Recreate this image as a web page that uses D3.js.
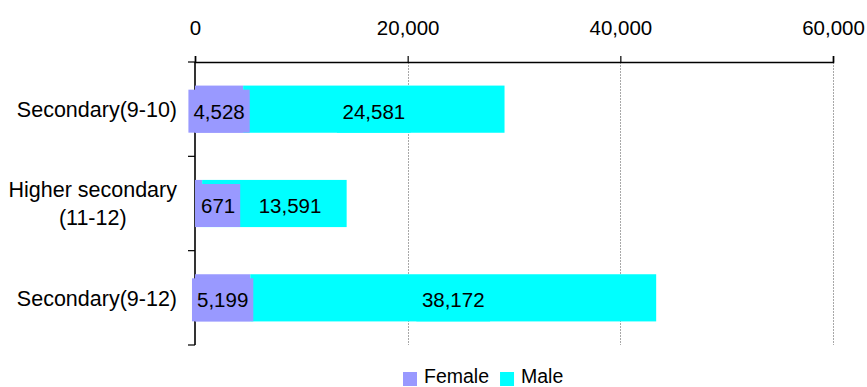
<!DOCTYPE html>
<html>
<head>
<meta charset="utf-8">
<script src="https://cdn.jsdelivr.net/npm/d3@7"></script>
<style>
  html, body { margin: 0; padding: 0; background: #fff; }
  text { font-family: Arial, "Liberation Sans", sans-serif; fill: #000; }
</style>
</head>
<body>
<svg id="chart" width="867" height="387"></svg>
<script>
const categories = ["Secondary(9-10)", "Higher secondary\n(11-12)", "Secondary(9-12)"];
const female = [4528, 671, 5199];
const male = [24581, 13591, 38172];
const seriesNames = ["Female", "Male"];
const seriesColors = ["#9999FF", "#00FFFF"];
const tickValues = [0, 20000, 40000, 60000];

const svg = d3.select("#chart");
const x = d3.scaleLinear().domain([0, 60000]).range([195, 833]);
const y = d3.scaleBand().domain(categories).range([62, 345]).paddingInner(0.5).paddingOuter(0.25);
const fmt = d3.format(",");

// gridlines
svg.append("g").selectAll("line").data(tickValues.filter(v => v > 0)).join("line")
  .attr("x1", d => Math.round(x(d)) + 0.5).attr("x2", d => Math.round(x(d)) + 0.5)
  .attr("y1", 62).attr("y2", 345)
  .attr("stroke", "#a8a8a8").attr("stroke-width", 1).attr("stroke-dasharray", "2,1");

// top axis
const xAxis = d3.axisTop(x).tickValues(tickValues).tickFormat(fmt).tickSize(6).tickPadding(21);
const gx = svg.append("g").attr("transform", "translate(0,62)").call(xAxis);
gx.select(".domain").attr("stroke", "#000").attr("stroke-width", 1.6);
gx.selectAll(".tick line").attr("stroke", "#000").attr("stroke-width", 1.2);
gx.selectAll(".tick text").attr("font-size", "20.5px").attr("font-family", "Arial, 'Liberation Sans', sans-serif").attr("fill", "#000");

// left axis
const bounds = [y.range()[0]].concat(categories.map(c => y(c) + y.bandwidth() + y.step() * y.paddingInner() / 2));
bounds[bounds.length - 1] = y.range()[1];
svg.append("line").attr("x1", 195).attr("x2", 195).attr("y1", 62).attr("y2", 345)
  .attr("stroke", "#000").attr("stroke-width", 1.6);
svg.append("g").selectAll("line").data(bounds).join("line")
  .attr("x1", 188).attr("x2", 195).attr("y1", d => d).attr("y2", d => d)
  .attr("stroke", "#000").attr("stroke-width", 1.2);

// category labels
categories.forEach(c => {
  const lines = c.split("\n");
  const g = svg.append("g");
  const cy = y(c) + y.bandwidth() / 2;
  const lh = 28;
  const texts = lines.map((l, i) => g.append("text")
    .attr("font-size", "21.5px")
    .attr("y", cy + (i - (lines.length - 1) / 2) * lh)
    .attr("dy", "0.36em")
    .text(l));
  const widths = texts.map(t => t.node().getComputedTextLength());
  const maxW = d3.max(widths);
  const right = 177;
  texts.forEach(t => t.attr("text-anchor", "middle").attr("x", right - maxW / 2));
});

// bars
const rows = categories.map((c, i) => ({ c, f: female[i], m: male[i] }));
const gb = svg.append("g");
rows.forEach(r => {
  gb.append("rect").attr("x", x(0)).attr("y", y(r.c))
    .attr("width", x(r.f) - x(0)).attr("height", y.bandwidth()).attr("fill", seriesColors[0]);
  gb.append("rect").attr("x", x(r.f)).attr("y", y(r.c))
    .attr("width", x(r.f + r.m) - x(r.f)).attr("height", y.bandwidth()).attr("fill", seriesColors[1]);
});

// data labels with filled backgrounds
const gl = svg.append("g");
rows.forEach(r => {
  const cy = y(r.c) + y.bandwidth() / 2 + 2;
  const boxH = 43;
  const tf = gl.append("text").attr("font-size", "20.5px").attr("text-anchor", "middle").text(fmt(r.f));
  const wf = tf.node().getComputedTextLength() + 10;
  let lf = (x(0) + x(r.f)) / 2 - wf / 2;
  if (lf < x(0) - 8) lf = x(0) + 1;
  const tm = gl.append("text").attr("font-size", "20.5px").attr("text-anchor", "middle").text(fmt(r.m));
  const wm = tm.node().getComputedTextLength() + 11;
  let lm = (x(r.f) + x(r.f + r.m)) / 2 - wm / 2;
  if (lm < lf + wf + 12) lm = lf + wf + 13;
  gl.insert("rect", "text").attr("x", lf).attr("y", cy - boxH / 2).attr("width", wf).attr("height", boxH).attr("fill", seriesColors[0]);
  gl.insert("rect", "text").attr("x", lm).attr("y", cy - boxH / 2).attr("width", wm).attr("height", boxH).attr("fill", seriesColors[1]);
  tf.attr("x", lf + wf / 2).attr("y", cy).attr("dy", "0.36em");
  tm.attr("x", lm + wm / 2).attr("y", cy).attr("dy", "0.36em");
});

// legend
const lg = svg.append("g");
let lx = 403;
seriesNames.forEach((n, i) => {
  lg.append("rect").attr("x", lx).attr("y", 372).attr("width", 14).attr("height", 14).attr("fill", seriesColors[i]);
  const t = lg.append("text").attr("x", lx + 21).attr("y", 383).attr("font-size", "19.5px").text(n);
  lx = lx + 21 + t.node().getComputedTextLength() + 11;
});
</script>
</body>
</html>
